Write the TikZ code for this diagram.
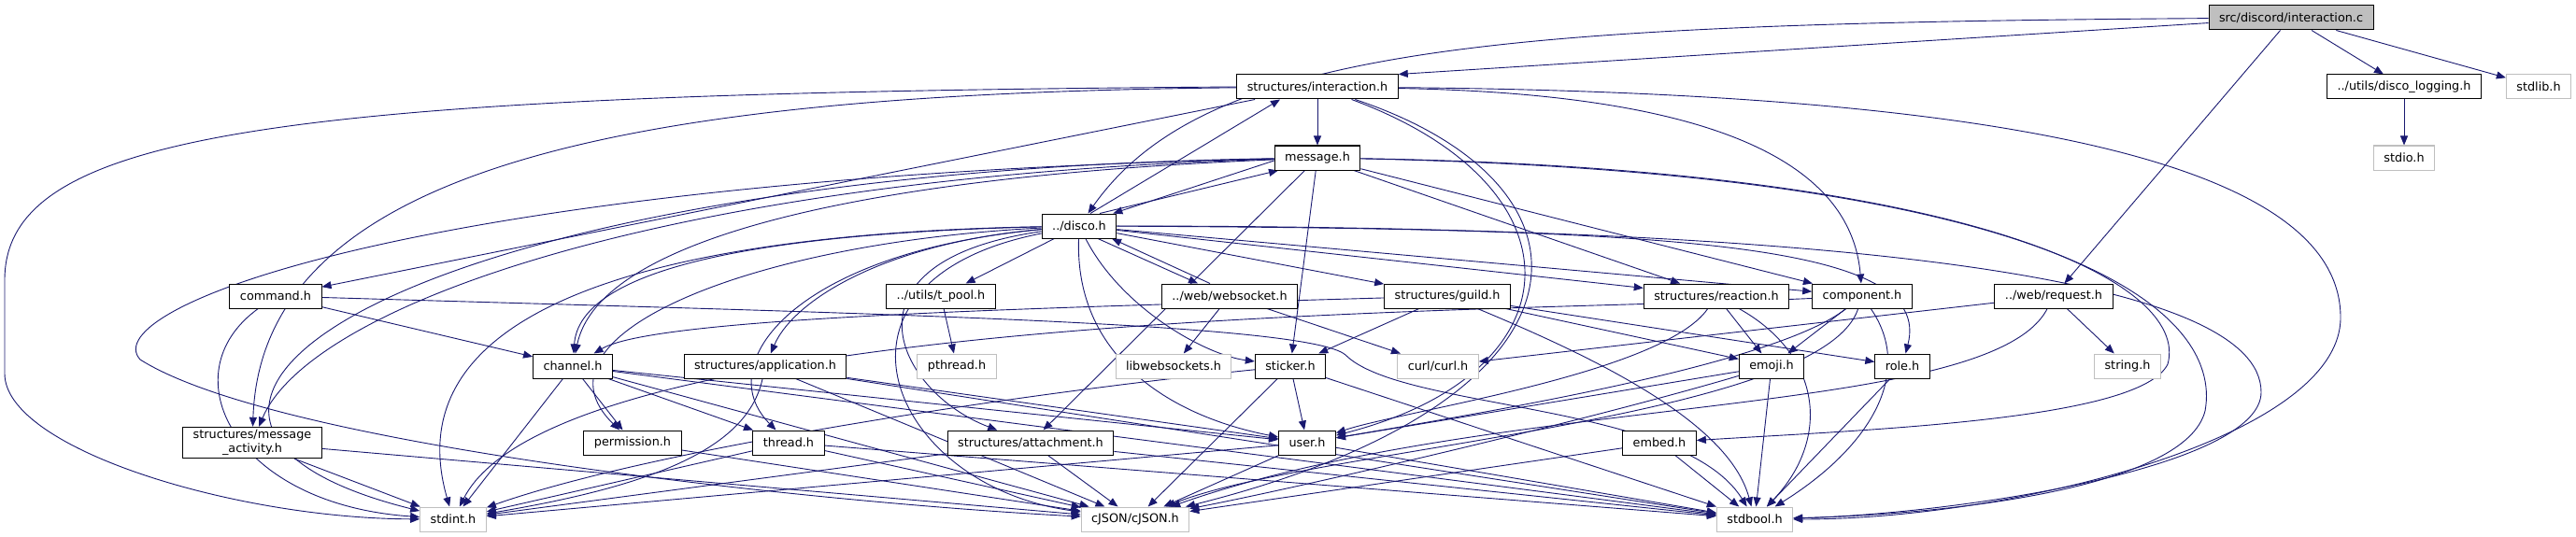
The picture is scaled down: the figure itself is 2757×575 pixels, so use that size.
\documentclass[tikz,border=0pt]{standalone}
\usepackage{fontspec}
\setmainfont{DejaVu Sans}
\usepackage{tikz}
\usetikzlibrary{arrows.meta,positioning}
\usepackage{xcolor}
\definecolor{edgeblue}{RGB}{25,25,112}
\definecolor{sysgray}{RGB}{191,191,191}
\pgfdeclarelayer{edges}
\pgfsetlayers{edges,main}

\begin{document}
\begin{tikzpicture}[
        x=1pt, y=1pt,
        file/.style={draw=black, fill=white, line width=1pt, inner xsep=11pt, inner ysep=0pt, minimum height=26pt, align=center, font=\fontsize{12.8}{15}\selectfont},
        sysfile/.style={file, draw=sysgray},
        mainfile/.style={file, fill=sysgray},
        dep/.style={-{Triangle[length=10pt,width=8pt]}, draw=edgeblue, line width=0.9pt}
    ]
    \useasboundingbox (0,0) rectangle (2757,-575);
    % Nós
    \node[mainfile] (ic) at (2452,-19) {src/discord/interaction.c};
    \node[file] (sih) at (1410,-93) {structures/interaction.h};
    \node[file] (dlog) at (2573,-93) {../utils/disco\_logging.h};
    \node[sysfile] (slib) at (2717,-93) {stdlib.h};
    \node[sysfile, below=49pt of dlog] (sio) {stdio.h};
    \node[file, below=49pt of sih] (msg) {message.h};
    \node[file] (disco) at (1155,-242) {../disco.h};
    \node[file] (cmd) at (295,-317) {command.h};
    \node[file] (tpool) at (1007,-317) {../utils/t\_pool.h};
    \node[file] (ws) at (1316,-317) {../web/websocket.h};
    \node[file] (guild) at (1549,-317) {structures/guild.h};
    \node[file] (react) at (1837,-317) {structures/reaction.h};
    \node[file] (comp) at (1993,-317) {component.h};
    \node[file] (req) at (2198,-317) {../web/request.h};
    \node[file] (chan) at (613,-392) {channel.h};
    \node[file] (app) at (819,-392) {structures/application.h};
    \node[sysfile] (pth) at (1024,-392) {pthread.h};
    \node[sysfile] (lws) at (1256,-392) {libwebsockets.h};
    \node[file] (stick) at (1381,-392) {sticker.h};
    \node[sysfile] (curl) at (1539,-392) {curl/curl.h};
    \node[file] (emoji) at (1896,-392) {emoji.h};
    \node[file] (role) at (2036,-392) {role.h};
    \node[sysfile] (str) at (2277,-392) {string.h};
    \node[file, inner ysep=3pt] (mact) at (270,-474) {structures/message\\\_activity.h};
    \node[file] (perm) at (677,-474) {permission.h};
    \node[file] (thr) at (844,-474) {thread.h};
    \node[file] (att) at (1103,-474) {structures/attachment.h};
    \node[file] (user) at (1399,-474) {user.h};
    \node[file] (embed) at (1776,-474) {embed.h};
    \node[sysfile] (sint) at (485,-556) {stdint.h};
    \node[sysfile] (cjson) at (1215,-556) {cJSON/cJSON.h};
    \node[sysfile] (sbool) at (1878,-556) {stdbool.h};
    % Setas
    \begin{pgfonlayer}{edges}
    \draw[dep] (ic) -- (sih.north east);
    \draw[dep] (ic) .. controls (1600,-25) and (1290,-50) .. (disco);
    \draw[dep] (ic) -- (dlog);
    \draw[dep] (ic) -- (slib);
    \draw[dep] (ic) -- (req);
    \draw[dep] (dlog) -- (sio);
    \draw[dep] (sih) -- (msg);
    \draw[dep] (sih) -- (cmd);
    \draw[dep] (sih) .. controls (700,-100) and (280,-170) .. (mact);
    \draw[dep] (sih.west) .. controls (300,-100) and (5,-140) .. (5,-300) -- (5,-400) .. controls (5,-480) and (250,-555) .. (sint);
    \draw[dep] (sih) .. controls (1700,-200) and (1690,-400) .. (user);
    \draw[dep] (sih) .. controls (1730,-200) and (1720,-430) .. (cjson);
    \draw[dep] (sih) .. controls (1800,-100) and (1980,-160) .. (comp);
    \draw[dep] (sih) .. controls (2250,-100) and (2505,-200) .. (2505,-340) .. controls (2505,-470) and (2150,-556) .. (sbool);
    \draw[dep] ([yshift=-3pt]msg.west) -- ([xshift=-4pt]disco.north east);
    \draw[dep] ([xshift=22pt]disco.north) -- ([xshift=-42pt]msg.south);
    \draw[dep] (msg) .. controls (400,-185) and (60,-450) .. (sint);
    \draw[dep] (msg) .. controls (450,-190) and (100,-330) .. (150,-385) .. controls (300,-480) and (900,-540) .. (cjson);
    \draw[dep] (msg) .. controls (900,-190) and (640,-260) .. (chan);
    \draw[dep] (msg) .. controls (700,-190) and (330,-330) .. (mact);
    \draw[dep] (msg) -- (att);
    \draw[dep] (msg) -- (stick);
    \draw[dep] (msg) -- (react);
    \draw[dep] (msg) -- (comp);
    \draw[dep] (msg) .. controls (2100,-180) and (2345,-300) .. (2320,-390) .. controls (2290,-450) and (2000,-460) .. (embed);
    \draw[dep] (msg) .. controls (2200,-185) and (2380,-330) .. (2360,-440) .. controls (2340,-520) and (2100,-550) .. (sbool);
    \draw[dep] ([xshift=12pt]disco.north) -- ([xshift=-40pt]sih.south);
    \draw[dep] (disco) -- (tpool);
    \draw[dep] ([xshift=20pt]disco.south) -- ([xshift=-34pt]ws.north);
    \draw[dep] ([xshift=-21pt]ws.north) -- ([xshift=35pt]disco.south);
    \draw[dep] (disco) -- (guild);
    \draw[dep] (disco) -- (react);
    \draw[dep] (disco) -- (comp);
    \draw[dep] (disco) .. controls (1800,-245) and (2070,-260) .. (role);
    \draw[dep] (disco) .. controls (2000,-242) and (2420,-300) .. (2420,-420) .. controls (2420,-500) and (2100,-550) .. (sbool);
    \draw[dep] (disco) .. controls (1200,-330) and (1290,-380) .. (stick);
    \draw[dep] (disco) .. controls (1150,-380) and (1250,-445) .. (user);
    \draw[dep] (disco) .. controls (890,-280) and (960,-420) .. (att);
    \draw[dep] (disco) .. controls (860,-300) and (950,-520) .. (cjson);
    \draw[dep] (disco) .. controls (700,-250) and (420,-330) .. (sint);
    \draw[dep] (disco) .. controls (800,-250) and (620,-290) .. (chan);
    \draw[dep] (disco) .. controls (800,-260) and (560,-360) .. (perm);
    \draw[dep] (disco) .. controls (850,-270) and (760,-390) .. (thr);
    \draw[dep] (disco) .. controls (950,-260) and (850,-320) .. (app);
    \draw[dep] (cmd) -- (chan);
    \draw[dep] (cmd) .. controls (180,-400) and (250,-540) .. (sint);
    \draw[dep] (cmd) .. controls (900,-335) and (1400,-345) .. (1440,-380) .. controls (1500,-440) and (1800,-430) .. (sbool);
    \draw[dep] (tpool) -- (pth);
    \draw[dep] (ws) -- (lws);
    \draw[dep] (ws) -- (curl);
    \draw[dep] (guild) -- (stick);
    \draw[dep] (guild) -- (emoji);
    \draw[dep] (guild) -- (role);
    \draw[dep] (guild) .. controls (1700,-380) and (1850,-450) .. (sbool);
    \draw[dep] (guild) .. controls (1100,-330) and (700,-340) .. (chan);
    \draw[dep] (react) -- (emoji);
    \draw[dep] (react) .. controls (1780,-400) and (1500,-440) .. (user);
    \draw[dep] (react) .. controls (1950,-380) and (1960,-470) .. (sbool);
    \draw[dep] (comp) -- (emoji);
    \draw[dep] (comp) .. controls (1900,-390) and (1600,-440) .. (user);
    \draw[dep] (comp) .. controls (1950,-450) and (1400,-480) .. (cjson);
    \draw[dep] (comp) .. controls (2050,-400) and (2000,-480) .. (sbool);
    \draw[dep] (comp) .. controls (1600,-335) and (600,-330) .. (sint);
    \draw[dep] (req) -- (str);
    \draw[dep] (req) -- (curl);
    \draw[dep] (req) .. controls (2130,-450) and (1600,-420) .. (cjson);
    \draw[dep] (chan) -- (perm);
    \draw[dep] (chan) -- (thr);
    \draw[dep] (chan) -- (user);
    \draw[dep] (chan) -- (sint);
    \draw[dep] (chan) -- (cjson);
    \draw[dep] (chan) -- (sbool);
    \draw[dep] (app) -- (user);
    \draw[dep] (app) .. controls (800,-480) and (700,-520) .. (sint);
    \draw[dep] (app) -- (cjson);
    \draw[dep] (app) -- (sbool);
    \draw[dep] (stick) -- (user);
    \draw[dep] (stick) -- (cjson);
    \draw[dep] (stick) -- (sbool);
    \draw[dep] (stick) .. controls (1100,-420) and (700,-480) .. (sint);
    \draw[dep] (emoji) -- (user);
    \draw[dep] (emoji) .. controls (1700,-450) and (1400,-520) .. (cjson);
    \draw[dep] (emoji) -- (sbool);
    \draw[dep] (role) -- (sbool);
    \draw[dep] (mact) -- (sint);
    \draw[dep] (mact) -- (cjson);
    \draw[dep] (perm) -- (cjson);
    \draw[dep] (thr) -- (sint);
    \draw[dep] (thr) -- (cjson);
    \draw[dep] (thr) -- (sbool);
    \draw[dep] (att) -- (sint);
    \draw[dep] (att) -- (cjson);
    \draw[dep] (att) -- (sbool);
    \draw[dep] (user) -- (sint);
    \draw[dep] (user) -- (cjson);
    \draw[dep] (user) -- (sbool);
    \draw[dep] (embed) -- (cjson);
    \draw[dep] (embed) -- (sbool);
    \end{pgfonlayer}
    \end{tikzpicture}
\end{document}
